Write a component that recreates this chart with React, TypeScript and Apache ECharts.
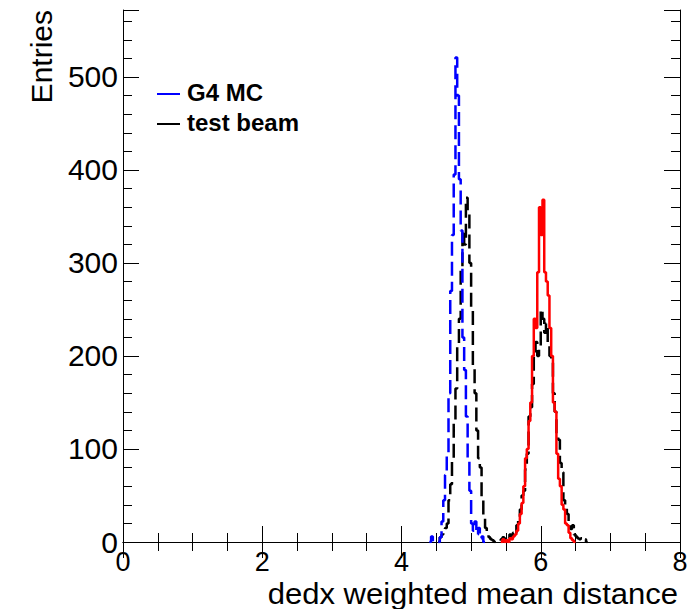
import React, { useEffect, useRef } from "react";
import * as echarts from "echarts";

// Histogram bin width (dedx weighted mean distance units)
const BIN_WIDTH = 0.025;

// G4 MC (blue) – first bin's left edge and bin contents
const mcStart = 4.4;
const mcValues = [0, 6, 0, 0, 0, 0, 5, 22, 45, 72, 95, 160, 270, 330, 395, 521, 480, 390, 335, 220, 185, 135, 90, 55, 20, 12, 22, 8, 15, 4, 6, 0];

// test beam (black) – two peaks
const beamStart = 4.525;
const beamValues = [
  0, 5, 8, 12, 15, 20, 45, 62, 90, 130, 165, 210, 240, 295, 335, 320, 370, 355, 300, 250, 190, 160, 120, 90, 80, 45, 25, 15, 8, 5, 3, 2,
  0, 0, 0, 0,
  3, 5, 2, 6, 4, 8, 6, 10, 8, 18, 25, 35, 50, 55, 78, 95, 135, 145, 170, 205, 215, 200, 210, 250, 240, 225, 235, 215, 200, 195, 160, 140,
  115, 110, 85, 75, 45, 40, 30, 20, 14, 18, 8, 6, 4, 3, 4, 2, 3, 0,
];

// G4 MC second sample (red)
const mc2Start = 5.425;
const mc2Values = [0, 3, 0, 2, 0, 4, 3, 6, 8, 12, 20, 30, 42, 60, 90, 100, 130, 150, 200, 240, 230, 290, 360, 330, 368, 290, 280, 265, 230, 200, 150, 140, 95, 68, 60, 40, 35, 20, 18, 10, 4, 2, 0];

const xTicks = [0, 2, 4, 6, 8];
const yTicks = [0, 100, 200, 300, 400, 500];
const X_MIN = 0;
const X_MAX = 8;
const Y_MAX = 572;

const legendItems = [
  { name: "G4 MC", color: "#0000ff" },
  { name: "test beam", color: "#000000" },
];

const FONT = "'Liberation Sans', Arial, Helvetica, sans-serif";

function mkHist(start: number, vals: number[]) {
  const pts: number[][] = vals.map((v, i) => [start + i * BIN_WIDTH, v]);
  pts.push([start + vals.length * BIN_WIDTH, 0]);
  return pts;
}

export default function App() {
  const ref = useRef<HTMLDivElement>(null);
  useEffect(() => {
    if (!ref.current) return;
    const chart = echarts.init(ref.current, undefined, { renderer: "svg" });
    const axisLine = { show: true, lineStyle: { color: "#000", width: 1 } };
    const xBase = (pos: string, showLabel: boolean) => ({
      type: "value",
      position: pos,
      min: X_MIN,
      max: X_MAX,
      interval: xTicks[1] - xTicks[0],
      axisLine,
      axisTick: { show: true, inside: true, length: 16, lineStyle: { color: "#000" } },
      minorTick: { show: true, splitNumber: 4, length: 9, lineStyle: { color: "#000" } },
      splitLine: { show: false },
      axisLabel: {
        show: showLabel,
        fontSize: 27,
        lineHeight: 24,
        fontFamily: FONT,
        color: "#000",
        margin: 8,
        formatter: (v: number) => (xTicks.includes(v) ? String(v) : ""),
      },
    });
    const yBase = (pos: string, interval: number, len: number, showLabel: boolean, line: boolean) => ({
      type: "value",
      position: pos,
      min: 0,
      max: Y_MAX,
      interval,
      axisLine: line ? axisLine : { show: false },
      axisTick: { show: true, inside: true, length: len, lineStyle: { color: "#000" } },
      splitLine: { show: false },
      axisLabel: {
        show: showLabel,
        fontSize: 30,
        fontFamily: FONT,
        color: "#000",
        margin: 5,
        formatter: (v: number) => (yTicks.includes(v) ? String(v) : ""),
      },
    });
    const mkSeries = (name: string, start: number, vals: number[], color: string, dashed: boolean, z: number) => ({
      name,
      type: "line",
      step: "end",
      showSymbol: false,
      symbol: "none",
      xAxisIndex: 0,
      yAxisIndex: 0,
      z,
      data: mkHist(start, vals),
      lineStyle: { color, width: 2.5, type: dashed ? [14, 6] : "solid" },
    });
    chart.setOption({
      animation: false,
      backgroundColor: "#fff",
      grid: { left: 123, right: 15, top: 10, bottom: 67, containLabel: false },
      xAxis: [xBase("bottom", true), xBase("top", false)],
      yAxis: [
        yBase("left", 100, 16, true, true),
        yBase("left", 20, 9, false, false),
        yBase("right", 100, 16, false, true),
        yBase("right", 20, 9, false, false),
      ],
      series: [
        mkSeries("test beam", beamStart, beamValues, "#000000", true, 2),
        mkSeries("G4 MC", mcStart, mcValues, "#0000ff", true, 3),
        mkSeries("G4 MC 2", mc2Start, mc2Values, "#ff0000", false, 4),
      ],
      graphic: [
        {
          type: "text",
          x: 41,
          y: 10,
          rotation: Math.PI / 2,
          style: { text: "Entries", font: `30px ${FONT}`, fill: "#000", align: "right", verticalAlign: "middle" },
        },
        {
          type: "text",
          x: 678,
          y: 594,
          scaleX: 1.07,
          style: { text: "dedx weighted mean distance", font: `29px ${FONT}`, fill: "#000", align: "right", verticalAlign: "middle" },
        },
        ...legendItems.flatMap((it, i) => [
          {
            type: "line",
            shape: { x1: 157, y1: 94 + i * 30, x2: 180, y2: 94 + i * 30 },
            style: { stroke: it.color, lineWidth: 2 },
          },
          {
            type: "text",
            x: 187,
            y: 92 + i * 30,
            style: { text: it.name, font: `bold 24px ${FONT}`, fill: "#000", align: "left", verticalAlign: "middle" },
          },
        ]),
      ],
    });
    return () => chart.dispose();
  }, []);
  return <div ref={ref} style={{ position: "absolute", left: 0, top: 0, width: 695, height: 609 }} />;
}
